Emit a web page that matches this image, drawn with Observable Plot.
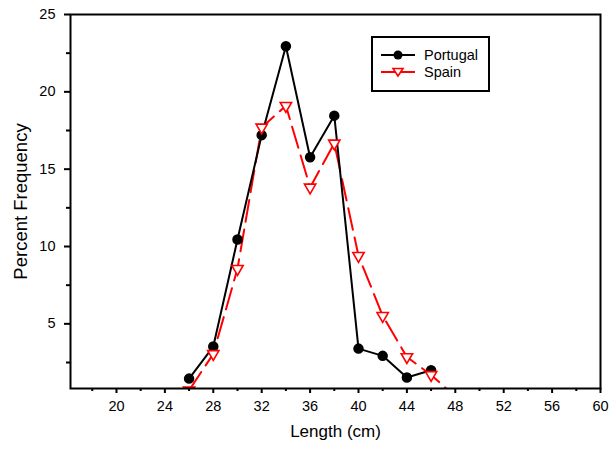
<!DOCTYPE html>
<html>
<head>
<meta charset="utf-8">
<script src="https://cdn.jsdelivr.net/npm/d3@7"></script>
<script src="https://cdn.jsdelivr.net/npm/@observablehq/plot@0.6"></script>
<style>
  html, body { margin: 0; padding: 0; background: #fff; }
  #wrap { position: relative; width: 610px; height: 450px; font-family: "Liberation Sans", Arial, sans-serif; }
  #legend { position: absolute; left: 371px; top: 36px; width: 115px; height: 52px; border: 2px solid #000; background: #fff; font-size: 14.5px; }
  .item { position: absolute; left: 8px; height: 16px; display: flex; align-items: center; }
  .item span { margin-left: 9px; color: #000; }
</style>
</head>
<body>
<div id="wrap"></div>
<script>
const lengths = [26, 28, 30, 32, 34, 36, 38, 40, 42, 44, 46, 48];
const portugal = [1.46, 3.53, 10.45, 17.2, 22.95, 15.77, 18.46, 3.4, 2.93, 1.53, 2.0, null];
const spain = [0.7, 3.06, 8.56, 17.7, 19.1, 13.82, 16.67, 9.4, 5.52, 2.86, 1.7, 0.3];
const xMajor = [20, 24, 28, 32, 36, 40, 44, 48, 52, 56, 60];
const xMinor = [18, 22, 26, 30, 34, 38, 42, 46, 50, 54, 58];
const yMajor = [5, 10, 15, 20, 25];
const yMinor = [2.5, 7.5, 12.5, 17.5, 22.5];
const seriesNames = ["Portugal", "Spain"];
const seriesColors = ["#000000", "#ff0000"];

const pData = lengths.map((x, i) => ({x, y: portugal[i]})).filter(d => d.y != null);
const sData = lengths.map((x, i) => ({x, y: spain[i]})).filter(d => d.y != null);

const chart = Plot.plot({
  width: 610,
  height: 450,
  marginLeft: 70,
  marginRight: 10,
  marginTop: 14,
  marginBottom: 62,
  style: {fontFamily: "Liberation Sans, Arial, sans-serif", fontSize: "14.5px", color: "#000", background: "#fff"},
  x: {domain: [16.2, 60]},
  y: {domain: [0.82, 25]},
  marks: [
    Plot.line(sData, {x: "x", y: "y", stroke: seriesColors[1], strokeWidth: 2, strokeDasharray: "22,8", clip: true}),
    Plot.line(pData, {x: "x", y: "y", stroke: seriesColors[0], strokeWidth: 2, clip: true}),
    Plot.dot(pData, {x: "x", y: "y", r: 4.5, fill: seriesColors[0], stroke: seriesColors[0], clip: true}),
    Plot.dot(sData, {x: "x", y: "y", symbol: "triangle", rotate: 180, r: 4.2, fill: "#fff", stroke: seriesColors[1], strokeWidth: 1.6, clip: true}),
    Plot.axisX(xMajor, {tickSize: 5, tickPadding: 7, strokeWidth: 2, fontSize: 14.5, label: null}),
    Plot.axisX(xMinor, {tickSize: 3, strokeWidth: 2, text: null, label: null}),
    Plot.axisY(yMajor, {tickSize: 6, tickPadding: 9, strokeWidth: 2, fontSize: 14.5, label: null}),
    Plot.axisY(yMinor, {tickSize: 4, strokeWidth: 2, text: null, label: null}),
    Plot.frame({stroke: "#000", strokeWidth: 2}),
    Plot.text(["Length (cm)"], {frameAnchor: "bottom", dy: 48, fontSize: 17, textAnchor: "middle", text: d => d}),
    Plot.text(["Percent Frequency"], {frameAnchor: "left", dx: -49, rotate: -90, fontSize: 18.5, textAnchor: "middle", text: d => d})
  ]
});

const wrap = document.getElementById("wrap");
wrap.appendChild(chart);

const legend = document.createElement("div");
legend.id = "legend";
seriesNames.forEach((name, i) => {
  const item = document.createElement("div");
  item.className = "item";
  item.style.top = (i === 0 ? 9 : 26) + "px";
  const sym = i === 0
    ? `<circle cx="17" cy="8" r="4.5" fill="#000"/>`
    : `<path d="M12,4.5 L22,4.5 L17,12 Z" fill="#fff" stroke="#f00" stroke-width="1.6"/>`;
  item.innerHTML = `<svg width="34" height="16"><line x1="0" y1="8" x2="34" y2="8" stroke="${seriesColors[i]}" stroke-width="2"/>${sym}</svg><span>${name}</span>`;
  legend.appendChild(item);
});
wrap.appendChild(legend);
</script>
</body>
</html>
